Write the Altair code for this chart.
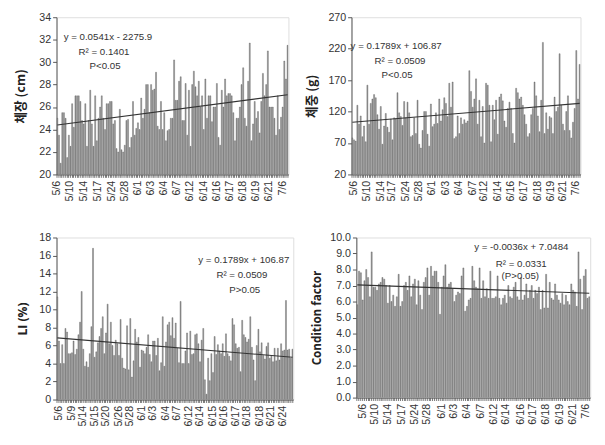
import json
import altair as alt
import pandas as pd

# ---------------- data ----------------
# Panel 1: body length (cm)
len_vals = [25.0,23.5,21.0,25.5,25.5,25.0,21.5,23.5,22.5,26.3,
            24.2,27.0,27.0,27.0,26.5,24.8,24.5,26.3,22.5,24.8,
            27.5,24.5,22.5,27.0,23.0,25.0,26.0,27.0,25.0,24.0,
            26.3,26.3,26.5,26.5,24.5,24.8,22.3,22.0,25.8,22.2,
            22.0,22.6,24.8,24.9,22.4,23.3,26.5,23.5,24.1,24.6,
            24.0,26.8,25.0,25.8,28.0,28.0,25.5,28.0,27.5,27.6,
            29.1,24.3,24.0,26.5,24.0,25.5,23.0,23.9,24.0,25.0,
            25.0,30.2,26.6,26.6,28.3,28.7,24.8,24.8,28.1,23.5,
            27.5,22.5,28.0,29.2,27.8,27.0,28.3,26.0,27.0,24.0,
            28.5,25.0,27.0,27.0,24.7,26.0,26.0,28.1,23.3,22.6,
            27.5,26.0,28.5,27.0,27.2,27.2,27.0,25.5,23.0,25.0,
            25.0,26.0,28.0,29.5,25.0,24.3,28.3,31.7,23.0,24.5,
            26.5,25.0,25.6,23.7,26.5,29.0,27.0,28.0,31.0,26.0,
            26.0,26.0,25.0,23.5,27.0,24.0,25.1,26.0,30.1,28.5,
            31.5]
len_trend = [24.4, 27.1]
len_tick_idx = [0, 8, 16, 25, 33, 41, 49, 57, 65, 73, 81, 89, 97, 105, 113, 121, 129, 137]
len_tick_lab = ["5/6", "5/10", "5/14", "5/17", "5/24", "5/28", "6/1", "6/3", "6/4", "6/7",
                "6/12", "6/14", "6/16", "6/17", "6/18", "6/19", "6/21", "7/6"]

# Panel 2: body weight (g)
wt_vals = [78,75,73,130,100,113,80,97,72,162,
           100,133,140,147,142,115,92,128,68,97,
           117,95,87,108,75,110,108,150,118,112,
           98,136,110,135,118,80,82,110,85,138,
           68,62,90,120,120,84,65,132,96,100,
           118,101,140,105,123,142,133,112,165,127,
           167,77,80,113,85,110,100,107,102,105,
           185,152,127,140,172,100,138,80,128,70,
           165,162,130,72,130,107,138,84,143,148,
           137,105,95,125,135,125,85,70,157,150,
           140,143,130,115,100,80,85,115,125,167,
           145,113,88,138,230,85,118,92,112,110,
           85,143,120,127,212,130,100,90,120,145,
           90,78,103,125,217,140,195]
wt_trend = [103, 133]
wt_tick_idx = [1, 9, 17, 24, 32, 40, 48, 56, 64, 72, 79, 87, 95, 103, 111, 119, 126, 134]
wt_tick_lab = len_tick_lab

# Panel 3: LI (%)
li_vals = [11.4,6.5,4.0,6.1,4.0,7.9,7.5,5.1,5.1,5.2,
           6.5,5.0,5.6,7.2,8.6,12.0,5.6,3.7,4.2,3.6,
           5.1,8.1,16.8,4.7,5.3,6.3,7.0,7.9,9.2,5.1,
           7.4,10.6,6.2,8.6,6.0,4.9,6.6,6.2,4.9,8.9,
           4.6,3.5,3.4,8.2,3.3,9.0,2.5,4.3,7.8,6.4,
           6.9,3.6,5.5,5.4,5.1,5.8,7.2,5.0,4.2,6.5,
           6.5,4.9,6.8,3.2,4.1,9.2,3.7,6.4,8.3,8.6,
           7.1,9.1,6.8,8.5,5.7,4.1,10.9,4.0,4.0,5.4,
           7.4,4.0,7.6,5.0,5.1,7.2,7.3,6.2,4.2,6.6,
           7.9,2.2,0.6,4.6,2.1,5.1,3.0,7.0,5.0,6.1,
           5.4,5.1,6.2,4.8,7.3,5.1,4.8,4.3,9.0,8.3,
           6.2,5.7,5.8,3.1,8.8,7.2,6.9,6.4,6.7,9.2,
           5.8,4.4,2.1,6.0,7.8,5.3,6.3,4.9,4.5,5.9,
           6.3,4.6,4.9,4.2,5.7,4.3,5.7,4.4,6.2,5.4,
           5.5,11.0,5.5,5.6,4.6,5.6]
li_trend = [6.85, 4.7]
li_tick_idx = [1, 9, 16, 23, 30, 38, 45, 52, 59, 67, 74, 81, 88, 96, 103, 110, 117, 125, 132, 139]
li_tick_lab = ["5/6", "5/9", "5/14", "5/15", "5/20", "5/26", "5/28", "6/1", "6/3", "6/4",
               "6/7", "6/12", "6/14", "6/15", "6/16", "6/17", "6/18", "6/18", "6/21", "6/24"]

# Panel 4: condition factor
cf_vals = [5.8,7.9,7.8,6.1,7.3,8.0,7.5,6.3,9.1,6.9,
           6.9,6.7,7.1,7.2,7.5,7.4,7.0,5.9,7.0,6.0,
           6.4,5.7,6.3,7.7,5.7,6.0,7.0,7.2,6.7,7.6,
           6.3,7.1,7.4,5.8,7.3,6.4,5.5,7.2,7.5,8.1,
           6.4,8.2,7.6,7.9,7.9,7.2,5.2,6.9,7.6,8.3,
           6.9,7.1,7.2,6.8,6.0,6.4,6.6,6.5,7.6,8.1,
           5.4,5.7,6.1,6.2,8.2,7.3,6.9,6.8,8.1,6.2,
           7.3,6.3,6.8,6.2,7.9,6.2,6.2,6.3,7.6,6.2,
           5.8,6.2,6.4,5.9,7.0,6.3,6.2,6.9,7.2,6.3,
           6.1,7.5,6.1,6.4,7.1,6.2,6.7,7.0,6.2,6.7,
           6.5,6.9,5.5,6.7,5.6,7.7,5.6,7.2,6.2,6.1,
           7.1,6.4,6.1,5.9,6.5,5.8,6.4,6.0,5.8,7.1,
           6.7,6.6,5.7,9.1,7.4,5.5,7.6,8.0,6.2,6.3]
cf_trend = [7.04, 6.52]
cf_tick_idx = [3, 10, 17, 25, 32, 39, 47, 54, 61, 69, 76, 83, 91, 98, 105, 113, 120, 127]
cf_tick_lab = len_tick_lab

FONT = "Liberation Sans, sans-serif"
KFONT = "Noto Sans CJK KR"


def panel(vals, trend, tick_idx, tick_labs, ytitle, ydom, yvals, yfmt, notes, w, h,
          tfont, tsize, tpad):
    n = len(vals)
    df = pd.DataFrame({"i": list(range(n)), "v": vals})
    idx = json.dumps(tick_idx)
    labs = json.dumps(tick_labs)
    expr = f"indexof({idx}, datum.value) >= 0 ? {labs}[indexof({idx}, datum.value)] : ''"
    xenc = alt.X(
        "i:O",
        scale=alt.Scale(paddingInner=0.38, paddingOuter=0.2),
        axis=alt.Axis(title=None, labelExpr=expr, labelAngle=270, labelOverlap=False,
                      labelFont=FONT, labelFontSize=11, labelColor="#333",
                      tickSize=3, tickColor="#777", labelPadding=3,
                      domainColor="#555"),
    )
    yscale = alt.Scale(domain=ydom, zero=False, nice=False)
    yenc = alt.Y(
        "v:Q", scale=yscale,
        axis=alt.Axis(title=ytitle, values=yvals, format=yfmt, grid=False,
                      labelOverlap=False, labelFlush=False,
                      labelFont=FONT, labelFontSize=11, labelColor="#333",
                      tickSize=4, tickColor="#555", domainColor="#555",
                      titleFont=tfont, titleFontSize=tsize, titleFontWeight="bold",
                      titleColor="#222", titlePadding=tpad),
    )
    bars = alt.Chart(df).mark_bar(color="#999999", stroke="#4a4a4a", strokeWidth=0.35,
                                  clip=True).encode(x=xenc, y=yenc, y2=alt.datum(ydom[0]))
    tdf = pd.DataFrame({"i": [0, n - 1], "v": trend})
    line = alt.Chart(tdf).mark_line(color="#333", strokeWidth=1.1).encode(
        x=xenc, y=yenc)
    layers = [bars, line]
    for txt, px, py in notes:
        layers.append(
            alt.Chart(pd.DataFrame({"t": [txt]})).mark_text(
                font=FONT, fontSize=10, color="#333", align="center", baseline="middle"
            ).encode(x=alt.value(px), y=alt.value(py), text="t:N")
        )
    return alt.layer(*layers).properties(width=w, height=h)


p1 = panel(len_vals, len_trend, len_tick_idx, len_tick_lab, "체장 (cm)",
           [20, 34], [20, 22, 24, 26, 28, 30, 32, 34], "d",
           [("y = 0.0541x - 2275.9", 53, 20), ("R² = 0.1401", 49, 36), ("P<0.05", 50, 50)],
           239, 162, KFONT, 13, 12)
p2 = panel(wt_vals, wt_trend, wt_tick_idx, wt_tick_lab, "체중 (g)",
           [20, 270], [20, 70, 120, 170, 220, 270], "d",
           [("y = 0.1789x + 106.87", 46, 30), ("R² = 0.0509", 50, 45), ("P<0.05", 47, 60)],
           236, 162, KFONT, 13, 10)
p3 = panel(li_vals, li_trend, li_tick_idx, li_tick_lab, "LI (%)",
           [0, 18], [0, 2, 4, 6, 8, 10, 12, 14, 16, 18], "d",
           [("y = 0.1789x + 106.87", 193, 23), ("R² = 0.0509", 191, 39), ("P>0.05", 194, 54)],
           244, 167, "Open Sans", 12.5, 10)
p4 = panel(cf_vals, cf_trend, cf_tick_idx, cf_tick_lab, "Condition factor",
           [0, 10], [0, 1, 2, 3, 4, 5, 6, 7, 8, 9, 10], ".1f",
           [("y = -0.0036x + 7.0484", 170, 10), ("R² = 0.0331", 170, 27), ("(P>0.05)", 169, 40)],
           241, 165, "Open Sans", 12, 7)

chart = alt.vconcat(
    alt.hconcat(p1, p2, spacing=12),
    alt.hconcat(p3, p4, spacing=12),
    spacing=30,
).properties(padding={"left": 6, "top": -4, "right": 2, "bottom": 2}).configure_view(
    stroke="#888", strokeWidth=1
).configure(background="white")

chart.save("out.html", embed_options={"renderer": "svg", "actions": False})
